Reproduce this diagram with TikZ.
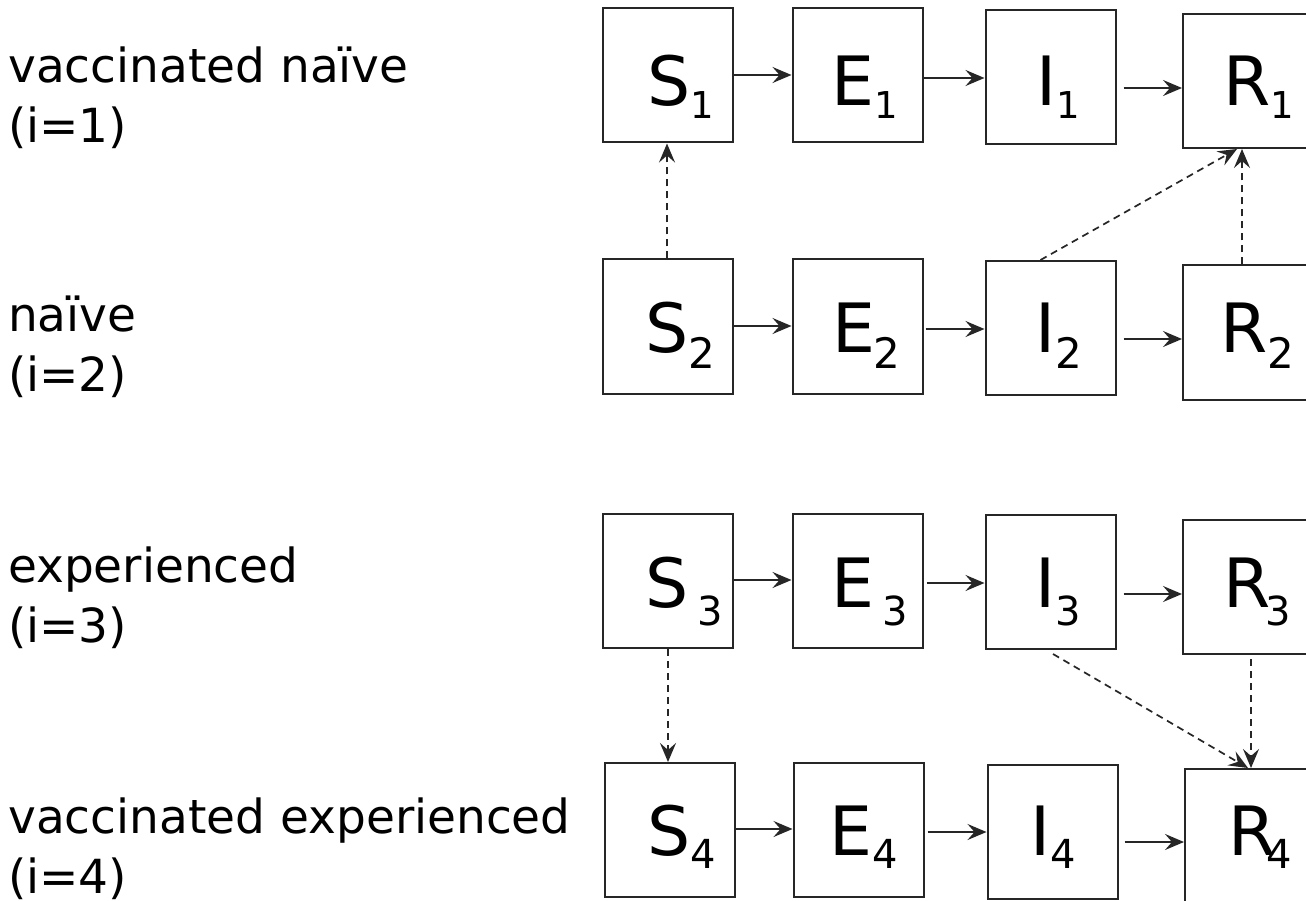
\documentclass[tikz,border=0pt]{standalone}
\usepackage{fontspec}
\setmainfont{DejaVu Sans}
\usetikzlibrary{arrows.meta,calc}
\tikzset{
  box/.style={draw=black!85, line width=2pt, minimum width=130pt, minimum height=134pt, inner sep=0pt},
  lbl/.style={font=\fontsize{68}{68}\selectfont, inner sep=0pt, anchor=base west},
  arr/.style={draw=black!85, line width=1.7pt, -{Stealth[length=19pt,width=16pt,inset=7pt]}},
  darr/.style={arr, dash pattern=on 7pt off 5pt},
  side/.style={font=\fontsize{47}{60}\selectfont, align=left, anchor=base west, inner sep=0pt},
}
% subscript: kern, lower, size, text
\newcommand\subx[4]{\kern#1pt\raisebox{-#2pt}{\fontsize{#3}{#3}\selectfont #4}}
% compartment: name, cx, cy, label, xoffset, baseline
\newcommand\comp[6]{%
  \node[box] (#1) at (#2,#3) {};
  \node[lbl] (#1t) at ({#2-65+#5},#6) {#4};
}
\begin{document}
\begin{tikzpicture}[x=1pt,y=-1pt]
\useasboundingbox (0,0) rectangle (1306,901);
\clip (0,0) rectangle (1306,901);
\fill[white] (0,0) rectangle (1306,901);

% side labels (anchor base = last line)
\node[side] (t1) at (8,143) {vaccinated naïve\\(i=1)};
\node[side] (t2) at (8,391) {naïve\\(i=2)};
\node[side] (t3) at (8,642) {experienced\\(i=3)};
\node[side] (t4) at (8,893) {vaccinated experienced\\(i=4)};

% row 1
\comp{s1}{668}{75.5}{S\subx{0}{13}{37}{1}}{44.5}{106}
\comp{e1}{857.5}{75.5}{E\subx{0}{13}{37}{1}}{39}{106}
\comp{i1}{1050.5}{77}{I\subx{0}{13}{37}{1}}{51}{106}
\comp{r1}{1248}{81}{R\subx{0}{13}{37}{1}}{40}{106}
% row 2
\comp{s2}{668}{326.5}{S\subx{0}{16}{42}{2}}{42.5}{352}
\comp{e2}{857.5}{326.5}{E\subx{-2}{16}{42}{2}}{40}{352}
\comp{i2}{1050.5}{328}{I\subx{0}{16}{42}{2}}{50}{352}
\comp{r2}{1248}{332.5}{R\subx{0}{16}{42}{2}}{37}{352}
% row 3
\comp{s3}{668}{581}{S\subx{9}{18}{40}{3}}{42.5}{607}
\comp{e3}{857.5}{581}{E\subx{8}{18}{40}{3}}{39}{607}
\comp{i3}{1050.5}{582}{I\subx{0}{18}{40}{3}}{50}{607}
\comp{r3}{1248}{587}{R\subx{-5}{18}{40}{3}}{40}{607}
% row 4
\comp{s4}{669.5}{830}{S\subx{0}{13}{40}{4}}{42.5}{855}
\comp{e4}{858.5}{830}{E\subx{0}{13}{40}{4}}{36}{855}
\comp{i4}{1052.5}{831.5}{I\subx{0}{13}{40}{4}}{43}{855}
\comp{r4}{1250}{836}{R\subx{-9}{13}{40}{4}}{43}{855}

% solid arrows
\draw[arr] ([shift={(0,-0.5)}]s1.east) -- ([shift={(0,-0.5)}]e1.west);
\draw[arr] ([shift={(0,2.5)}]e1.east) -- ([shift={(0,1)}]i1.west);
\draw[arr] ([shift={(7,11)}]i1.east) -- ([shift={(0,7)}]r1.west);

\draw[arr] ([shift={(0,-0.5)}]s2.east) -- ([shift={(0,-0.5)}]e2.west);
\draw[arr] ([shift={(2,2.5)}]e2.east) -- ([shift={(0,1)}]i2.west);
\draw[arr] ([shift={(7,11)}]i2.east) -- ([shift={(0,6.5)}]r2.west);

\draw[arr] ([shift={(0,-1)}]s3.east) -- ([shift={(0,-1)}]e3.west);
\draw[arr] ([shift={(3,2)}]e3.east) -- ([shift={(0,1)}]i3.west);
\draw[arr] ([shift={(7,12)}]i3.east) -- ([shift={(0,7)}]r3.west);

\draw[arr] ([shift={(0,-1)}]s4.east) -- ([shift={(0,-1)}]e4.west);
\draw[arr] ([shift={(3,2)}]e4.east) -- ([shift={(0,0.5)}]i4.west);
\draw[arr] ([shift={(6,10.5)}]i4.east) -- ([shift={(0,6)}]r4.west);

% dashed arrows
\draw[darr] ([shift={(-1,0)}]s2.north) -- ([shift={(-1,0)}]s1.south);
\draw[darr] ([shift={(-10,0)}]i2.north) -- ([shift={(-11,0)}]r1.south);
\draw[darr] ([shift={(-6,0)}]r2.north) -- ([shift={(-6,0)}]r1.south);
\draw[darr] ([shift={(0,0)}]s3.south) -- ([shift={(-1.5,0)}]s4.north);
\draw[darr] ([shift={(2.5,4)}]i3.south) -- ([shift={(-2,0)}]r4.north);
\draw[darr] ([shift={(3,4)}]r3.south) -- ([shift={(1,0)}]r4.north);
\end{tikzpicture}
\end{document}
